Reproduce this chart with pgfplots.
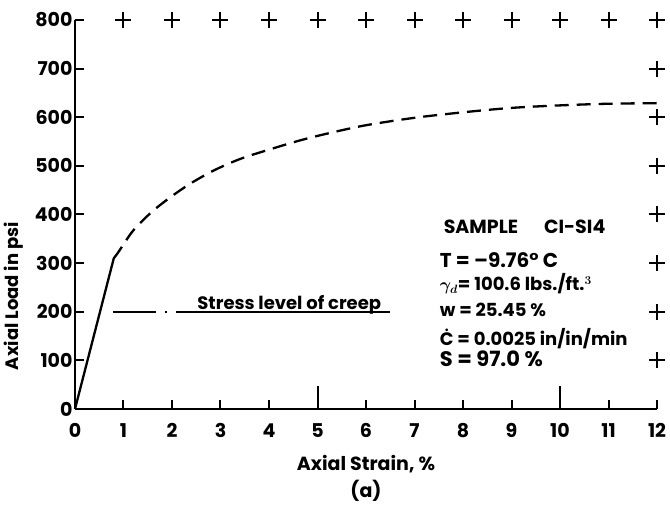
\documentclass[border=0pt]{standalone}
\usepackage{pgfplots}
\pgfplotsset{compat=1.18}
\usepackage{fontspec}
\setmainfont{Poppins}

\begin{document}
\begin{tikzpicture}
\begin{axis}[
    scale only axis,
    width=582pt, height=389pt,
    xmin=0, xmax=12, ymin=0, ymax=800,
    axis lines*=left,
    axis line style={line width=2.4pt},
    xtick={0,...,12},
    ytick={0,100,...,800},
    xtick align=inside, ytick align=inside,
    major tick length=9pt,
    tick style={line width=2pt, black},
    extra x ticks={5,10},
    extra x tick labels={},
    extra x tick style={major tick length=23pt},
    /pgf/number format/assume math mode=true,
    tick label style={font=\bfseries\fontsize{19}{19}\selectfont},
    xticklabel style={yshift=-11pt},
    yticklabel style={xshift=1pt},
    xlabel={Axial Strain, \%\\(a)},
    xlabel style={align=center, yshift=-10pt, font=\bfseries\fontsize{19}{27}\selectfont},
    ylabel={Axial Load in psi},
    ylabel style={at={(axis description cs:-0.083,0.29)}, anchor=south,
        font=\bfseries\fontsize{18}{18}\selectfont},
    clip=false,
]
% initial elastic part
\addplot[line width=2.3pt] coordinates {(0,0) (0.8,310)};
% loading curve
\addplot[line width=2.3pt, dash pattern=on 14pt off 8pt, smooth] coordinates {
    (0.8,310) (0.89,322) (1.2,367) (1.58,405) (1.96,435) (2.37,463)
    (2.85,490) (3.4,514) (4.02,534) (4.7,554) (5.4,571) (6.08,585)
    (7.25,602) (8.97,619) (10.7,627) (12,629)};
% creep stress level
\addplot[line width=2pt, dash pattern=on 43pt off 9pt on 2pt off 9pt on 400pt] coordinates {(0.78,200) (6.5,200)};
% corner marks
\addplot[only marks, mark=+, mark size=8pt, mark options={line width=2pt}] coordinates {
    (1,800) (2,800) (3,800) (4,800) (5,800) (6,800) (7,800) (8,800)
    (9,800) (10,800) (11,800) (12,800)
    (12,700) (12,600) (12,500) (12,400) (12,300) (12,200) (12,100)};
\node[anchor=base west, inner sep=0pt, font=\bfseries\fontsize{18}{18}\selectfont] at (axis cs:2.52,205) {Stress level of creep};
\node[anchor=base west, inner sep=0pt, font=\bfseries\fontsize{19}{19}\selectfont] at (axis cs:7.6,360) {SAMPLE\hspace{26pt}CI-SI4};
\node[anchor=base west, inner sep=0pt, font=\bfseries\fontsize{20}{20}\selectfont] at (axis cs:7.52,292) {T = –9.76° C};
\node[anchor=base west, inner sep=0pt, font=\bfseries\fontsize{18}{18}\selectfont] at (axis cs:7.52,243) {{\boldmath$\gamma_{d}$}= 100.6 lbs./ft.{\boldmath$^{3}$}};
\node[anchor=base west, inner sep=0pt, font=\bfseries\fontsize{18}{18}\selectfont] at (axis cs:7.52,191) {w = 25.45 \%};
\node[anchor=base west, inner sep=0pt, font=\bfseries\fontsize{18}{18}\selectfont] at (axis cs:7.52,130) {Ċ = 0.0025 in/in/min};
\node[anchor=base west, inner sep=0pt, font=\bfseries\fontsize{21}{21}\selectfont] at (axis cs:7.52,88) {S = 97.0 \%};
% margins around the axis, as in the original page
\path (rel axis cs:0,1) ++(-75pt,20pt);
\path (rel axis cs:1,0) ++(13pt,-99pt);
\end{axis}
\end{tikzpicture}
\end{document}
